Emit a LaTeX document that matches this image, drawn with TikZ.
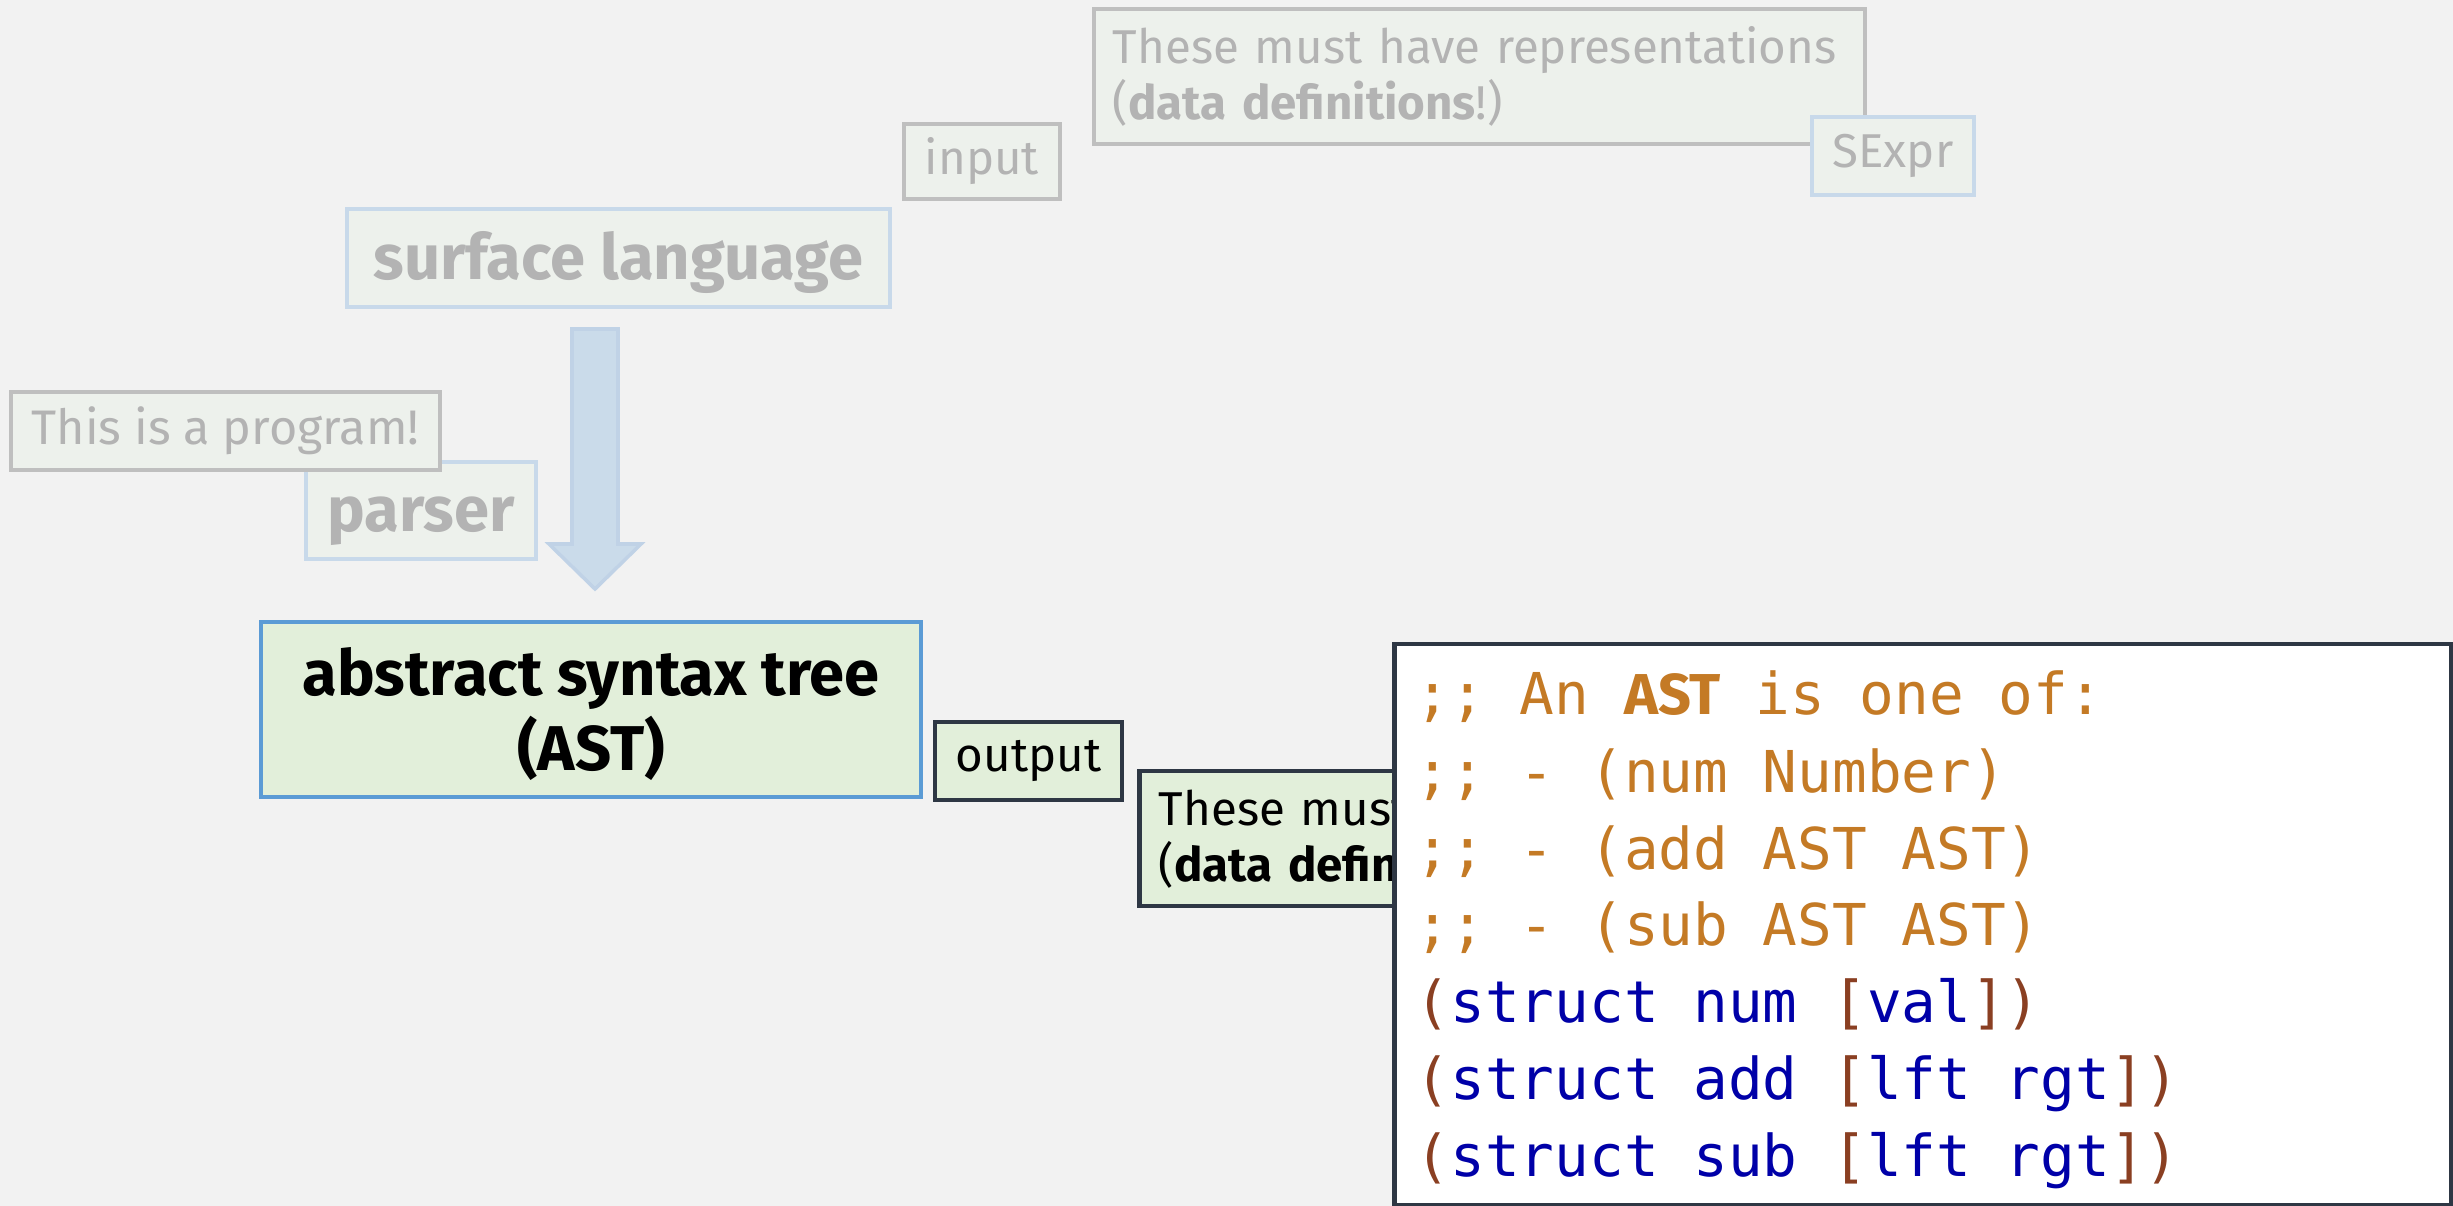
\documentclass[tikz,border=0pt]{standalone}
\usepackage{fontspec}
\setmainfont{Fira Sans}
\newfontfamily\codefont{DejaVu Sans Mono}
\definecolor{bg}{HTML}{F2F2F2}
\definecolor{fadefill}{HTML}{EDF1EC}
\definecolor{fadetext}{HTML}{B3B3B3}
\definecolor{fadegrayline}{HTML}{BFBFBF}
\definecolor{fadeblueline}{HTML}{C8D9EA}
\definecolor{arrowfill}{HTML}{CADBEA}
\definecolor{arrowline}{HTML}{C0D2E6}
\definecolor{greenfill}{HTML}{E2EFDA}
\definecolor{blueline}{HTML}{5B9BD5}
\definecolor{darkline}{HTML}{2E3744}
\definecolor{cmt}{HTML}{C47A25}
\definecolor{kw}{HTML}{0000A8}
\definecolor{par}{HTML}{8A3F22}
\tikzset{
  fadebox/.style={fill=fadefill, text=fadetext, line width=1.2pt, inner sep=0pt},
  fadegray/.style={fadebox, draw=fadegrayline},
  fadeblue/.style={fadebox, draw=fadeblueline},
  livebox/.style={fill=greenfill, text=black, inner sep=0pt},
  bigbold/.style={font=\fontsize{18pt}{21pt}\selectfont\bfseries, text height=14pt, text depth=2pt},
  codeline/.style={anchor=base west, inner sep=0pt, font=\codefont\fontsize{16.4pt}{20pt}\selectfont}
}
\begin{document}
\begin{tikzpicture}[x=0.01cm,y=-0.01cm]
\useasboundingbox (0,0) rectangle (2453,1206);
\fill[bg] (0,0) rectangle (2453,1206);

% top note
\node[fadegray, minimum height=1.35cm, text width=7.33cm, inner xsep=0.19cm, align=left,
      font=\fontsize{13.5pt}{15.9pt}\selectfont] (topnote) at (1479.5,76.5)
  {These must have representations\\(\textbf{data definitions}!)};
\node[fadeblue, minimum width=1.62cm, minimum height=0.78cm, font=\fontsize{13.5pt}{16pt}\selectfont] (sexpr) at (1893,156) {SExpr};
\node[fadegray, minimum width=1.56cm, minimum height=0.75cm, font=\fontsize{13.5pt}{16pt}\selectfont] (input) at (982,161.5) {\raisebox{-1pt}{input}};

\node[fadeblue, minimum width=5.43cm, minimum height=0.98cm, bigbold] (surface) at (618.5,258) {surface language};

% big arrow
\coordinate (arrowtop) at (595,329);
\coordinate (arrowtip) at (595,589);
\filldraw[fill=arrowfill, draw=arrowline, line width=1pt]
  (572,329) -- (618,329) -- (618,544) -- (641,544) -- (arrowtip) -- (549,544) -- (572,544) -- cycle;

\node[fadeblue, minimum width=2.30cm, minimum height=0.97cm, bigbold] (parser) at (421,510.5) {parser};
\node[fadegray, minimum width=4.29cm, minimum height=0.78cm, font=\fontsize{13.8pt}{16pt}\selectfont] (program) at (225.5,431) {This is a program!};

% AST
\node[livebox, draw=blueline, line width=1.2pt, minimum width=6.60cm, minimum height=1.75cm, align=center,
      font=\fontsize{18pt}{21.3pt}\selectfont\bfseries] (ast) at (591,709.5) {\rule{0pt}{16.3pt}abstract syntax tree\\(AST)};
\node[livebox, draw=darkline, line width=1.3pt, minimum width=1.87cm, minimum height=0.78cm,
      font=\fontsize{13.5pt}{16pt}\selectfont] (output) at (1028.5,761) {output};
\node[livebox, draw=darkline, line width=1.3pt, minimum height=1.35cm, text width=7.33cm, inner xsep=0.19cm, align=left,
      font=\fontsize{13.5pt}{15.9pt}\selectfont] (lownote) at (1525.5,838.5)
  {These must have representations\\(\textbf{data definitions}!)};

% code box
\node[draw=darkline, fill=white, line width=1.3pt, inner sep=0pt, minimum width=10.56cm, minimum height=5.61cm] (code) at (1923,924.5) {};

\node[codeline, text=cmt] (c1) at (1415,714) {;; An {\fontspec{Fira Sans}\bfseries AST} is one of:};
\node[codeline, text=cmt] (c2) at (1415,792) {;; - (num Number)};
\node[codeline, text=cmt] (c3) at (1415,869) {;; - (add AST AST)};
\node[codeline, text=cmt] (c4) at (1415,945) {;; - (sub AST AST)};
\node[codeline, text=kw] (c5) at (1415,1022) {\textcolor{par}{(}struct num \textcolor{par}{[}val\textcolor{par}{])}};
\node[codeline, text=kw] (c6) at (1415,1099) {\textcolor{par}{(}struct add \textcolor{par}{[}lft rgt\textcolor{par}{])}};
\node[codeline, text=kw] (c7) at (1415,1176) {\textcolor{par}{(}struct sub \textcolor{par}{[}lft rgt\textcolor{par}{])}};
\end{tikzpicture}
\end{document}
